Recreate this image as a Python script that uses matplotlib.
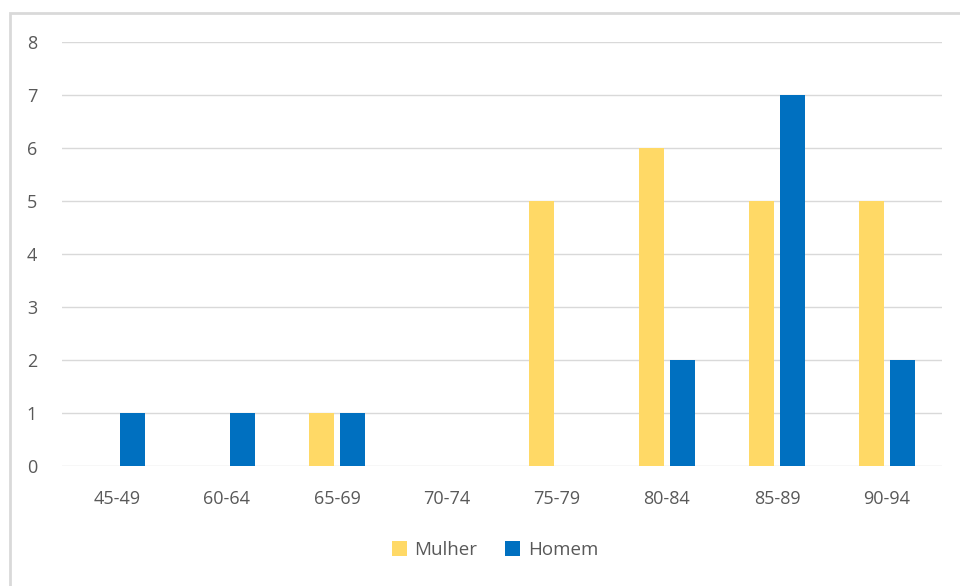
"""
Bar chart: Mulher vs Homem by age group
"""
import numpy as np
import matplotlib.pyplot as plt
from matplotlib.patches import Rectangle

plt.rcParams['font.family'] = ['Open Sans', 'DejaVu Sans']

categories = ['45-49', '60-64', '65-69', '70-74', '75-79', '80-84', '85-89', '90-94']
mulher = [0, 0, 1, 0, 5, 6, 5, 5]
homem = [1, 1, 1, 0, 0, 2, 7, 2]

x = np.arange(len(categories))
bar_w = 0.227
offset = 0.141

fig = plt.figure(figsize=(9.6, 5.86), dpi=100)
ax = fig.add_axes([62 / 960, 1 - 466 / 586, 880 / 960, 424 / 586])

# chart frame, cut at right and bottom like the screenshot
fig.patches.append(Rectangle((10 / 960, -0.05), 1.0, 1 - 13 / 586 + 0.05,
                             transform=fig.transFigure, fill=False,
                             edgecolor='#d9d9d9', linewidth=2, zorder=0))

ax.bar(x - offset, mulher, bar_w, color='#ffd966', label='Mulher', zorder=3)
ax.bar(x + offset, homem, bar_w, color='#0070c0', label='Homem', zorder=3)

ax.set_xlim(-0.5, len(categories) - 0.5)
ax.set_ylim(0, 8)
ax.set_yticks(range(0, 9))
ax.set_xticks(x)
ax.set_xticklabels(categories)
ax.grid(axis='y', color='#d9d9d9', linewidth=1, zorder=0)
for s in ax.spines.values():
    s.set_visible(False)
ax.tick_params(length=0, labelsize=13, colors='#595959')
ax.tick_params(axis='y', pad=18)
ax.tick_params(axis='x', pad=17)

fig.legend(*ax.get_legend_handles_labels(), loc='center',
           bbox_to_anchor=(495 / 960, 1 - 550 / 586),
           ncol=2, frameon=False, fontsize=13.5, labelcolor='#595959',
           handlelength=0.8, handleheight=0.8, handletextpad=0.4, columnspacing=1.5)

fig.savefig('out.png', dpi=100)
